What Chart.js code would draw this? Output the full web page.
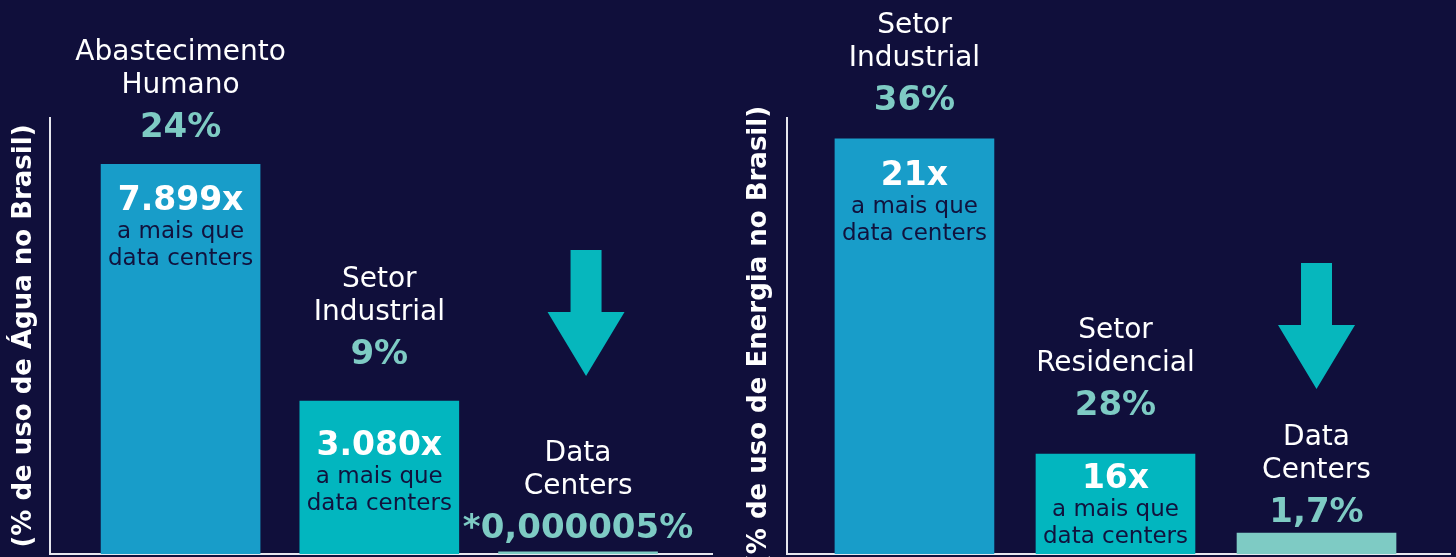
<!DOCTYPE html>
<html lang="pt-BR">
<head>
<meta charset="utf-8">
<title>Uso de água e energia no Brasil</title>
<script src="https://cdn.jsdelivr.net/npm/chart.js@4.4.1/dist/chart.umd.min.js"></script>
<style>
  html, body { margin: 0; padding: 0; background: #100f3b; }
  #wrap { position: relative; width: 1456px; height: 557px; overflow: hidden; }
  canvas { position: absolute; top: 0; }
  #agua { left: 0; }
  #energia { left: 735px; }
</style>
</head>
<body>
<div id="wrap">
  <canvas id="agua" width="735" height="557"></canvas>
  <canvas id="energia" width="721" height="557"></canvas>
</div>
<script>
// --- Dados: uso de água ---
const setoresAgua = [['Abastecimento', 'Humano'], ['Setor', 'Industrial'], ['Data', 'Centers']];
const percentAgua = ['24%', '9%', '*0,000005%'];
const vezesAgua = ['7.899x', '3.080x', ''];
// altura das barras como desenhadas no infográfico (% da altura do eixo)
const alturaAgua = [89.4, 35.1, 0.5];

// --- Dados: uso de energia ---
const setoresEnergia = [['Setor', 'Industrial'], ['Setor', 'Residencial'], ['Data', 'Centers']];
const percentEnergia = ['36%', '28%', '1,7%'];
const vezesEnergia = ['21x', '16x', ''];
const alturaEnergia = [95.2, 22.9, 4.8];

const CORES = ['#189dc9', '#02b6bf', '#7ecbc4'];
const FONTE = '"DejaVu Sans", sans-serif';

// --- Plugin: rótulos acima/dentro das barras e seta ---
const rotulosPlugin = {
  id: 'rotulos',
  afterDatasetsDraw(chart, args, opts) {
    const ctx = chart.ctx;
    const bars = chart.getDatasetMeta(0).data;
    ctx.save();
    ctx.textAlign = 'center';
    ctx.textBaseline = 'alphabetic';
    bars.forEach((bar, i) => {
      const x = bar.x, top = bar.y;
      const base = top - opts.gapPercent[i];
      ctx.fillStyle = '#7ecbc4';
      ctx.font = 'bold 34px ' + FONTE;
      ctx.fillText(opts.percent[i], x, base);
      ctx.fillStyle = '#ffffff';
      ctx.font = '28px ' + FONTE;
      ctx.fillText(opts.setores[i][1], x, base - 44);
      ctx.fillText(opts.setores[i][0], x, base - 77);
      if (opts.vezes[i]) {
        const b = top + opts.gapVezes[i];
        ctx.font = 'bold 33px ' + FONTE;
        ctx.fillText(opts.vezes[i], x, b);
        ctx.fillStyle = '#11123d';
        ctx.font = '23px ' + FONTE;
        ctx.fillText('a mais que', x, b + 28);
        ctx.fillText('data centers', x, b + 55);
      }
    });
    // seta apontando para a barra de data centers
    const last = bars[bars.length - 1];
    const s = opts.seta;
    const cx = last.x + s.dx;
    ctx.fillStyle = '#06b7bd';
    ctx.beginPath();
    ctx.moveTo(cx - 15.5, s.top);
    ctx.lineTo(cx + 15.5, s.top);
    ctx.lineTo(cx + 15.5, s.top + 62);
    ctx.lineTo(cx + 38.5, s.top + 62);
    ctx.lineTo(cx, s.top + 126);
    ctx.lineTo(cx - 38.5, s.top + 62);
    ctx.lineTo(cx - 15.5, s.top + 62);
    ctx.closePath();
    ctx.fill();
    ctx.restore();
  }
};

function criarGrafico(id, cfg) {
  const eixoBorda = { display: true, color: '#e6e6ee', width: 2 };
  return new Chart(document.getElementById(id), {
    type: 'bar',
    data: {
      datasets: [{
        data: cfg.alturas.map((v, i) => ({ x: i, y: v })),
        backgroundColor: CORES,
        barThickness: 159
      }]
    },
    options: {
      responsive: false,
      animation: false,
      layout: { padding: { top: 118, right: cfg.padRight, left: 0, bottom: 0 } },
      plugins: {
        legend: { display: false },
        tooltip: { enabled: false },
        rotulos: {
          setores: cfg.setores,
          percent: cfg.percent,
          vezes: cfg.vezes,
          gapPercent: cfg.gapPercent,
          gapVezes: cfg.gapVezes,
          seta: cfg.seta
        }
      },
      scales: {
        x: {
          type: 'linear',
          offset: false,
          min: cfg.xMin,
          max: cfg.xMax,
          ticks: { display: false },
          grid: { display: false, offset: false },
          border: eixoBorda,
          afterFit: s => { s.height = 3; }
        },
        y: {
          min: 0,
          max: 100,
          ticks: { display: false },
          grid: { display: false },
          border: eixoBorda,
          title: {
            display: true,
            text: cfg.titulo,
            color: '#ffffff',
            font: { family: FONTE, size: 26, weight: 'bold' },
            padding: { top: 9, bottom: 0 }
          },
          afterFit: s => { s.width = cfg.yWidth; }
        }
      }
    },
    plugins: [rotulosPlugin]
  });
}

criarGrafico('agua', {
  alturas: alturaAgua,
  setores: setoresAgua,
  percent: percentAgua,
  vezes: vezesAgua,
  gapPercent: [27, 37, 14],
  gapVezes: [46, 54, 0],
  seta: { dx: 8, top: 250 },
  titulo: '(% de uso de Água no Brasil)',
  xMin: -0.657, xMax: 2.674,
  padRight: 23, yWidth: 50
});

criarGrafico('energia', {
  alturas: alturaEnergia,
  setores: setoresEnergia,
  percent: percentEnergia,
  vezes: vezesEnergia,
  gapPercent: [29, 39, 11],
  gapVezes: [46, 34, 0],
  seta: { dx: 0, top: 263 },
  titulo: '(% de uso de Energia no Brasil)',
  xMin: -0.634, xMax: 2.664,
  padRight: 6, yWidth: 52
});
</script>
</body>
</html>
